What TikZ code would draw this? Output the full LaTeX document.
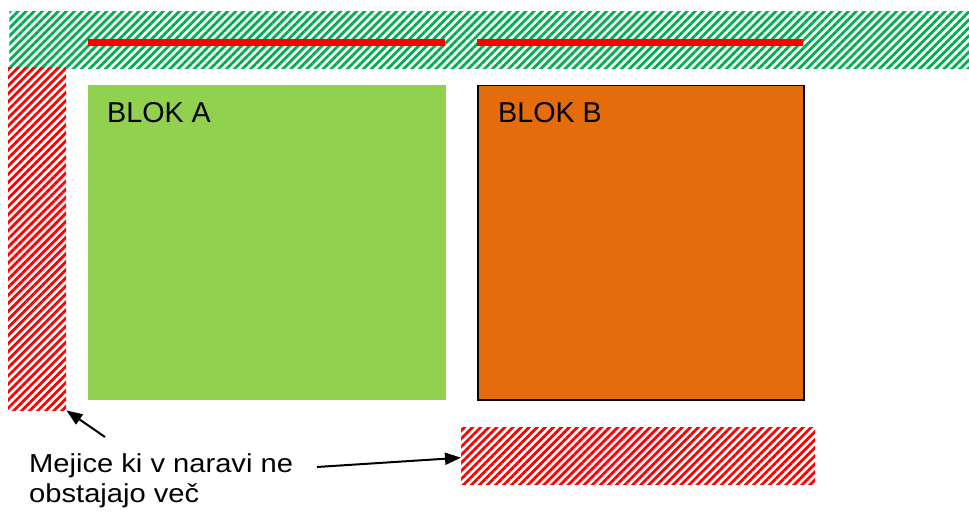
\documentclass[tikz,border=0pt]{standalone}
\usepackage{fontspec}
\setmainfont{Liberation Sans}
\usepackage{xcolor}
\definecolor{travnik}{HTML}{92D050}
\definecolor{oranzna}{HTML}{E46C0A}
\definecolor{crtezelena}{HTML}{00B050}
\usepackage{tikz}
\usetikzlibrary{positioning,patterns.meta,arrows.meta}

\tikzset{
  crtezel/.style={pattern={Lines[angle=45,distance=5.7pt,line width=2.8pt]},pattern color=crtezelena,inner sep=0pt,anchor=north west},
  crterde/.style={pattern={Lines[angle=45,distance=5.7pt,line width=2.8pt]},pattern color=red,inner sep=0pt,anchor=north west},
  blokbox/.style={anchor=north west,inner sep=0pt},
  puscica/.style={-{Triangle[length=16pt,width=12pt]},line width=2pt}
}

\begin{document}
\begin{tikzpicture}[x=1pt,y=-1pt]
\useasboundingbox (0,0) rectangle (969,513);

% crtaste mejice
\node[crtezel,minimum width=961pt,minimum height=57pt] (zgoraj) at (8,10) {};
\node[crterde,minimum width=58pt,minimum height=343pt] (levo) at (8,67) {};
\node[crterde,minimum width=354pt,minimum height=57pt] (spodaj) at (461,427) {};
\draw[red,line width=7pt] (88,43) -- (445,43);
\draw[red,line width=7pt] (477,43) -- (803,43);

% bloka
\node[blokbox,fill=travnik,minimum width=358pt,minimum height=315pt] (blokA) at (88,85) {};
\node[blokbox,fill=oranzna,draw=black,line width=1.5pt,minimum width=326pt,minimum height=314pt] (blokB) at (477,85) {};
\node[anchor=base west,inner sep=0pt,font=\fontsize{28.7}{34}\selectfont] (napisA) at (107,122.5) {BLOK A};
\node[anchor=base west,inner sep=0pt,font=\fontsize{28.7}{34}\selectfont] (napisB) at (498,122.5) {BLOK B};

% opis
\node[anchor=base west,inner sep=0pt,align=left,xscale=1.12,font=\fontsize{26}{30}\selectfont] (opis) at (29,502) {Mejice ki v naravi ne\\obstajajo več};
\coordinate (rep1) at (105,437);
\coordinate (rep2) at (317,467);
\draw[puscica] (rep1) -- (levo.south east);
\draw[puscica] (rep2) -- ([yshift=-2pt]spodaj.west);
%\draw[puscica] (rep2) -- (spodaj.west);
\end{tikzpicture}
\end{document}
